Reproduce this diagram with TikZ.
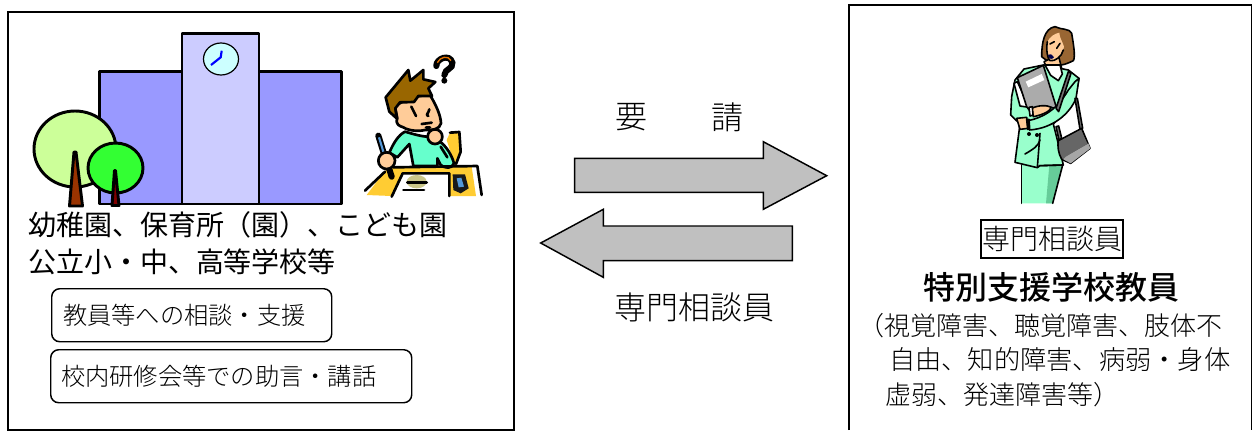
\documentclass[tikz,border=0pt]{standalone}
\usepackage{fontspec}
\newfontfamily\jp{Noto Sans CJK JP}
\newfontfamily\jpl{Noto Sans CJK JP Light}
\newfontfamily\jpm{Noto Sans CJK JP Medium}
\definecolor{wing}{HTML}{9999FF}
\definecolor{tower}{HTML}{CCCCFF}
\definecolor{clockc}{HTML}{CCFFFF}
\definecolor{treeA}{HTML}{CCFF99}
\definecolor{treeB}{HTML}{33FF33}
\definecolor{trunk}{HTML}{993300}
\definecolor{trunkB}{HTML}{800000}
\definecolor{hair}{HTML}{996600}
\definecolor{skin}{HTML}{FFCC99}
\definecolor{shirt}{HTML}{66FFCC}
\definecolor{desk}{HTML}{FFCC33}
\definecolor{suit}{HTML}{99FFCC}
\definecolor{suitd}{HTML}{66CC99}
\definecolor{hairw}{HTML}{996633}
\definecolor{arrowg}{HTML}{C0C0C0}
\tikzset{
  x=0.75pt,y=-0.75pt,
  panel/.style={draw=black,line width=1.2pt},
  blockarrow/.style={draw=black,fill=arrowg,line width=1.1pt,line join=miter},
  outl/.style={draw=black,line width=2.2pt,line join=round},
  ink/.style={draw=black,line width=2pt,line cap=round,line join=round},
  inkw/.style={draw=black,line width=1.2pt,line cap=round,line join=round},
  lab/.style={anchor=west,inner sep=0pt,outer sep=0pt,font=\jpl\fontsize{#1}{#1}\selectfont},
  labg/.style={anchor=west,inner sep=0pt,outer sep=0pt,font=\jp\fontsize{#1}{#1}\selectfont},
  pill/.style={draw=black,line width=1.1pt,rounded corners=6pt,inner sep=0pt,fill=white},
}
\begin{document}
\begin{tikzpicture}
\useasboundingbox (0,0) rectangle (1253,430);
\fill[white] (0,0) rectangle (1253,430);
% panels
\node[panel,anchor=north west,inner sep=0pt,minimum width=506*0.75pt,minimum height=418*0.75pt] (leftpanel) at (7,11) {};
\draw[panel] (849,430) -- (849,5) -- (1251.5,5) -- (1251.5,430);
% building
\draw[outl,fill=wing] (99.5,71.5) rectangle (341.5,204);
\draw[outl,fill=tower] (182,33.5) rectangle (259,204);
\draw[draw=black,line width=0.9pt,fill=clockc] (221,59) ellipse (17.5 and 16);
\draw[blue,line width=1.6pt] (221.7,50.7) -- (220.7,57.3) -- (211,65);
% trees
\draw[outl,fill=treeA] (75,149) ellipse (41 and 38);
\draw[outl,fill=trunk] (69.5,206) -- (74,152) -- (76,152) -- (82.5,206) -- cycle;
\draw[outl,fill=treeB] (115.5,168) ellipse (27.5 and 25);
\draw[outl,fill=trunkB] (112,205.5) -- (114.5,170.5) -- (115.5,170.5) -- (119,205.5) -- cycle;
% student
\begin{scope}[shift={(350,40)},x=0.25pt,y=-0.25pt]
\fill[desk] (50,465) -- (105,392) -- (130,382) -- (365,380) -- (378,468) -- (300,468) -- (300,400) -- (158,400) -- (125,468) -- cycle;
\fill[white] (158,400) -- (298,400) -- (298,468) -- (125,468) -- cycle;
\fill[desk] (300,278) -- (328,276) -- (332,335) -- (315,378) -- (290,300) -- cycle;
\draw[ink] (300,278) -- (328,276) -- (332,335) -- (318,372);
\draw[ink,fill=shirt] (118,338) .. controls (130,310) and (145,285) .. (165,275) .. controls (190,282) and (215,290) .. (235,290) -- (270,305) .. controls (290,320) and (305,345) .. (312,370) .. controls (305,388) and (285,385) .. (272,375) -- (262,355) -- (262,378) -- (190,378) -- (178,312) -- (142,352) -- cycle;
\draw[ink] (272,320) -- (292,352);
\draw[ink] (130,382) -- (382,378) -- (395,465);
\draw[ink] (105,395) -- (45,452);
\draw[ink] (125,470) -- (158,400) -- (298,400) -- (298,468);
\fill[black!90] (308,403) -- (345,403) -- (356,445) -- (332,460) -- (310,450) -- cycle;
\fill[cyan!60!blue!70!white] (320,415) -- (334,413) -- (342,440) -- (326,442) -- cycle;
\fill[black!20!olive!40!white] (200,425) ellipse (30 and 20);
\draw[ink] (172,428) -- (230,428);
\draw[ink] (160,450) -- (222,450);
% pencil
\draw[black,line width=4.6pt,line cap=round] (85,287) -- (103,345);
\draw[cyan!60!blue!70!white,line width=1.6pt] (87,292) -- (103,345);
\draw[black,line width=4.6pt,line cap=round] (117,385) -- (125,410);
\draw[ink,fill=skin] (110,362) circle (25);
% head
\draw[ink,fill=skin] (135,200) .. controls (165,175) and (210,165) .. (240,165) .. controls (258,195) and (272,225) .. (273,250) .. controls (270,268) and (245,272) .. (225,270) .. controls (205,275) and (175,272) .. (160,262) .. controls (150,258) and (135,255) .. (142,235) -- cycle;
\draw[ink,fill=hair] (107,172) -- (175,90) -- (181,122) -- (220,90) -- (220,118) -- (256,126) -- (235,145) -- (246,168) -- (205,168) -- (192,186) -- (150,187) -- (136,205) -- (140,235) -- (118,215) -- cycle;
\draw[ink] (184,200) -- (198,228);
\draw[ink] (238,208) .. controls (236,220) and (225,225) .. (235,228);
\draw[ink] (215,252) -- (245,248);
\draw[ink] (228,262) -- (240,262);
\draw[ink,fill=skin] (255,290) circle (22);
% question mark
\draw[black,line width=4.6pt,line cap=round] (259,78) .. controls (258,55) and (300,40) .. (307,68) .. controls (310,88) and (285,85) .. (283,105);
\draw[orange!90!black,line width=1pt] (262,68) .. controls (270,50) and (295,45) .. (303,62);
\fill[black] (283,122) circle (9);
\end{scope}
% woman
\begin{scope}[shift={(960,0)},x=0.25pt,y=-0.25pt]
\draw[inkw,fill=hairw] (245,170) .. controls (245,130) and (252,85) .. (285,80) .. controls (305,90) and (330,85) .. (335,100) .. controls (340,130) and (347,170) .. (340,182) .. controls (320,192) and (305,197) .. (290,195) -- (258,180) -- cycle;
\draw[inkw,fill=skin] (252,185) -- (295,165) -- (305,205) -- (270,225) -- cycle;
\fill[skin] (262,125) .. controls (270,110) and (285,100) .. (298,98) .. controls (300,125) and (318,135) .. (310,150) .. controls (305,170) and (285,185) .. (270,182) .. controls (262,175) and (258,150) .. (262,125) -- cycle;
\draw[inkw] (262,125) .. controls (258,150) and (262,175) .. (270,182) .. controls (285,185) and (305,170) .. (310,150);
\fill[black!70!blue] (264,165) .. controls (272,160) and (280,165) .. (282,172) .. controls (275,180) and (268,178) .. (264,165) -- cycle;
\draw[inkw] (270,132) -- (283,125);
\draw[inkw] (290,145) -- (300,130);
% skirt
\fill[suit] (185,490) -- (308,490) -- (278,610) -- (185,610) -- cycle;
\fill[suitd] (268,495) -- (308,495) -- (278,610) -- (258,610) -- cycle;
\draw[inkw] (185,495) -- (185,610);
\draw[inkw] (308,495) -- (278,610);
% jacket
\draw[inkw,fill=suit] (192,207) -- (250,195) -- (300,205) -- (325,210) -- (357,235) -- (345,300) -- (280,372) -- (292,420) -- (310,495) -- (240,497) -- (232,503) -- (165,487) -- (180,372) -- (152,345) -- (155,290) -- (165,240) -- cycle;
% white shirt
\draw[inkw,fill=white] (255,195) -- (300,195) -- (307,222) -- (295,242) -- (272,226) -- cycle;
% page and folder
\draw[inkw,fill=white] (162,250) -- (172,245) -- (207,322) -- (180,318) -- cycle;
\draw[inkw,fill=black!33] (172,233) -- (250,196) -- (290,325) -- (270,322) -- (215,340) -- (200,320) -- cycle;
\fill[white] (197,245) -- (245,222) -- (253,240) -- (205,262) -- cycle;
% arm
\fill[white] (318,362) -- (345,355) -- (352,385) -- (322,397) -- cycle;
\draw[inkw,fill=suit] (345,245) -- (357,235) -- (348,295) .. controls (330,340) and (280,385) .. (208,390) -- (205,362) .. controls (250,352) and (290,330) .. (325,270) -- cycle;
\draw[inkw,fill=skin] (215,325) .. controls (235,315) and (262,315) .. (274,322) .. controls (270,335) and (245,345) .. (220,350) -- cycle;
\draw[inkw,fill=skin] (170,355) -- (200,352) -- (205,385) -- (180,388) -- cycle;
\draw[inkw,fill=black] (200,358) -- (207,358) -- (209,386) -- (203,388) -- cycle;
\draw[inkw,fill=white] (207,322) -- (217,320) -- (219,345) -- (210,348) -- cycle;
% bag
\draw[inkw,fill=black!55] (288,325) -- (325,215) -- (333,220) -- (296,335) -- cycle;
\draw[inkw,fill=black!55] (345,295) -- (352,295) -- (368,385) -- (360,388) -- cycle;
\draw[inkw,fill=black!55] (288,380) -- (296,378) -- (305,415) -- (297,420) -- cycle;
\draw[inkw,fill=black!60] (295,422) -- (365,385) -- (390,445) -- (332,490) -- (305,478) .. controls (295,460) and (292,440) .. (295,422) -- cycle;
\fill[black!35] (318,470) -- (385,430) -- (391,445) -- (332,490) -- (310,478) -- cycle;
\fill[black!60] (298,425) -- (362,390) -- (383,432) -- (318,468) -- cycle;
% buttons, pocket
\fill[black] (207,402) circle (6);
\fill[black] (231,405) circle (6);
\draw[inkw] (195,462) .. controls (215,450) and (235,440) .. (240,420);
\draw[inkw] (240,400) -- (232,502);
\draw[inkw] (238,497) -- (308,495);
\end{scope}
% texts
\node[labg=21] (kinder) at (28,225) {幼稚園、保育所（園）、こども園};
\node[labg=21] (school) at (28,262) {公立小・中、高等学校等};
\node[pill,anchor=north west,minimum width=280*0.75pt,minimum height=53*0.75pt] (consult) at (51,288) {};
\node[lab=18.2] (consulttext) at (63,315) {教員等への相談・支援};
\node[pill,anchor=north west,minimum width=361*0.75pt,minimum height=53*0.75pt] (training) at (50,349) {};
\node[lab=18.2] (trainingtext) at (61,376.5) {校内研修会等での助言・講話};
% block arrows
\draw[blockarrow] (574.7,158.3) -- (763.3,158.3) -- (763.3,141.7) -- (826.7,175.7) -- (763.3,209.3) -- (763.3,192.3) -- (574.7,192.3) -- cycle;
\draw[blockarrow] (792.3,226) -- (603.3,226) -- (603.3,209.3) -- (540.7,243) -- (603.3,277.3) -- (603.3,260.7) -- (792.3,260.7) -- cycle;
\node[lab=24] (youA) at (615,117) {要};
\node[lab=24] (youB) at (711,117) {請};
\node[lab=24] (staff) at (614,307) {専門相談員};
% right panel text
\node[draw=black,line width=1.5pt,anchor=center,minimum width=142*0.75pt,minimum height=38*0.75pt,inner sep=0pt] (staffbox) at (1052,239) {\jpl\fontsize{21}{21}\selectfont 専門相談員};
\node[anchor=west,inner sep=0pt,font=\jpm\fontsize{24}{24}\selectfont] (teacher) at (923,287) {特別支援学校教員};
\node[lab=19.5] (r1) at (858.5,326) {（視覚障害、聴覚障害、肢体不};
\node[lab=19.7] (r2) at (889,359) {自由、知的障害、病弱・身体};
\node[lab=19.5] (r3) at (885,395) {虚弱、発達障害等）};
\end{tikzpicture}
\end{document}
